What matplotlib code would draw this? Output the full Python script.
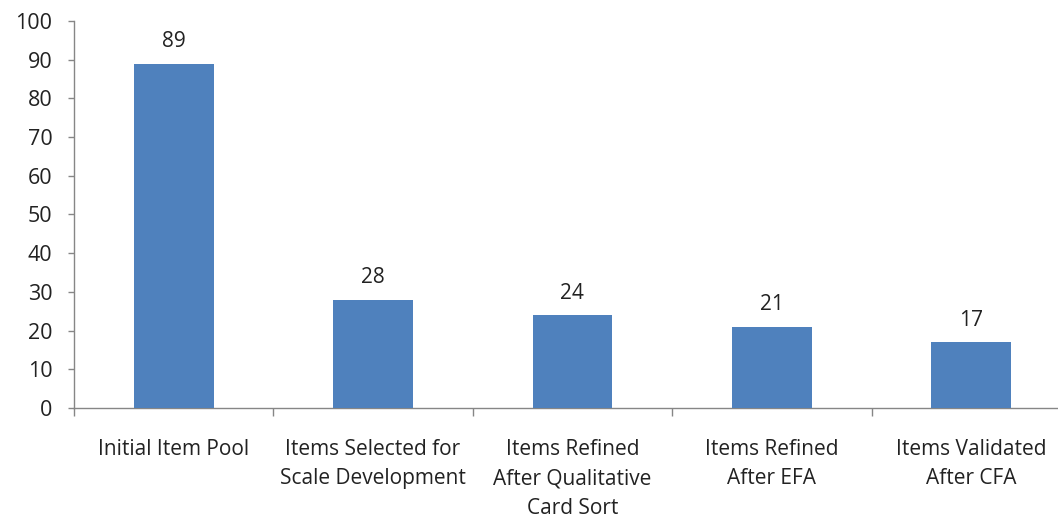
import matplotlib
matplotlib.use("Agg")
import matplotlib.pyplot as plt
import numpy as np

# Datos del gráfico
categories = ["Initial Item Pool", "Items Selected for\nScale Development",
              "Items Refined\nAfter Qualitative\nCard Sort", "Items Refined\nAfter EFA",
              "Items Validated\nAfter CFA"]
values = [89, 28, 24, 21, 17]

plt.rcParams['font.family'] = ['Open Sans', 'DejaVu Sans']

fig = plt.figure(figsize=(10.58, 5.22), dpi=100)
ax = fig.add_axes([0.0699, 0.2184, 0.9423, 0.7414])

x = np.arange(len(categories))
bars = ax.bar(x, values, width=0.4, color='#4F81BD', zorder=3)

# Etiquetas sobre las barras
for xi, v in zip(x, values):
    ax.text(xi, v + 3, str(v), ha='center', va='bottom', fontsize=15, color='#222222')

ax.set_xlim(-0.5, len(categories) - 0.5)
ax.set_ylim(0, 100)
ax.set_yticks(range(0, 101, 10))
ax.tick_params(axis='y', labelsize=15.5, colors='#868686', labelcolor='#222222',
               length=4.5, width=1, pad=11)

# Marcas del eje x entre categorías
ax.set_xticks(x)
ax.set_xticklabels(categories, fontsize=15, color='#222222', linespacing=1.55, va='top')
ax.tick_params(axis='x', length=0, pad=22)
ax.set_xticks(np.arange(-0.5, len(categories), 1), minor=True)
ax.tick_params(axis='x', which='minor', length=6, width=1, colors='#868686')

for s in ['top', 'right']:
    ax.spines[s].set_visible(False)
for s in ['left', 'bottom']:
    ax.spines[s].set_color('#868686')
    ax.spines[s].set_linewidth(1)

fig.savefig("out.png", dpi=100)
